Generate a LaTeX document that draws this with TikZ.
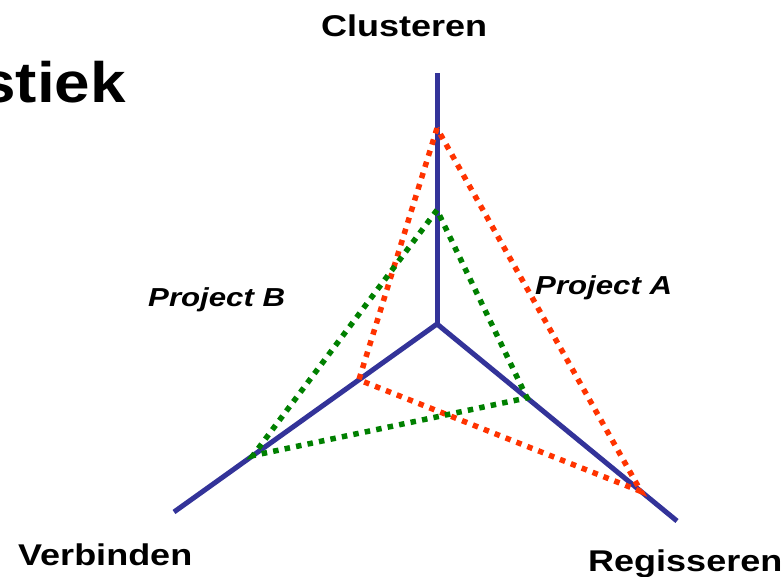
\documentclass[tikz,border=0pt]{standalone}
\usepackage{fontspec}
\setmainfont{Liberation Sans}
\usepackage{tikz}
\usetikzlibrary{calc}
\definecolor{axisblue}{RGB}{51,51,153}
\definecolor{projred}{RGB}{255,51,0}
\definecolor{projgreen}{RGB}{0,128,0}
\newcommand{\widetxt}[1]{\scalebox{1.2}[1]{#1}}

\begin{document}
\begin{tikzpicture}[x=1pt, y=1pt,
    axisline/.style={axisblue, line width=5pt},
    projline/.style={line width=5.5pt, dash pattern=on 5.5pt off 6.2pt},
    axislabel/.style={font=\fontsize{30}{36}\selectfont\bfseries, inner sep=0pt, anchor=base west},
    projlabel/.style={font=\fontsize{26}{31}\selectfont\bfseries\itshape, inner sep=0pt, anchor=base west}]

\useasboundingbox (0,0) rectangle (781,577);
\clip (0,0) rectangle (781,577);

% titel (afgesneden aan de linkerkant)
\node[font=\fontsize{57}{68}\selectfont\bfseries, inner sep=0pt, anchor=base east] (titel) at (126,474) {\scalebox{1.12}[1]{stiek}};

% assen: midden en drie eindpunten
\coordinate (o) at (437,253);
\coordinate (clus) at (437,504);
\coordinate (verb) at (174,65);
\coordinate (regi) at (677,56);

\draw[axisline] (o) -- (clus);
\draw[axisline] (o) -- (verb);
\draw[axisline] (o) -- (regi);

% Project A (rood)
\coordinate (a1) at ($(o)!0.78!(clus)$);
\coordinate (a2) at ($(o)!0.297!(verb)$);
\coordinate (a3) at ($(o)!0.85!(regi)$);
\draw[projline, projred] (a1) -- (a2) -- (a3) -- cycle;

% Project B (groen)
\coordinate (b1) at ($(o)!0.454!(clus)$);
\coordinate (b2) at ($(o)!0.70!(verb)$);
\coordinate (b3) at ($(o)!0.375!(regi)$);
\draw[projline, projgreen] (b1) -- (b2) -- (b3) -- cycle;

% labels
\node[axislabel] (lclus) at (321,540) {\widetxt{Clusteren}};
\node[axislabel] (lverb) at (18,11) {\widetxt{Verbinden}};
\node[axislabel] (lregi) at (588,5) {\widetxt{Regisseren}};

\node[projlabel] (lpb) at (148,270) {\widetxt{Project B}};
\node[projlabel] (lpa) at (535,282) {\widetxt{Project A}};

\end{tikzpicture}
\end{document}
